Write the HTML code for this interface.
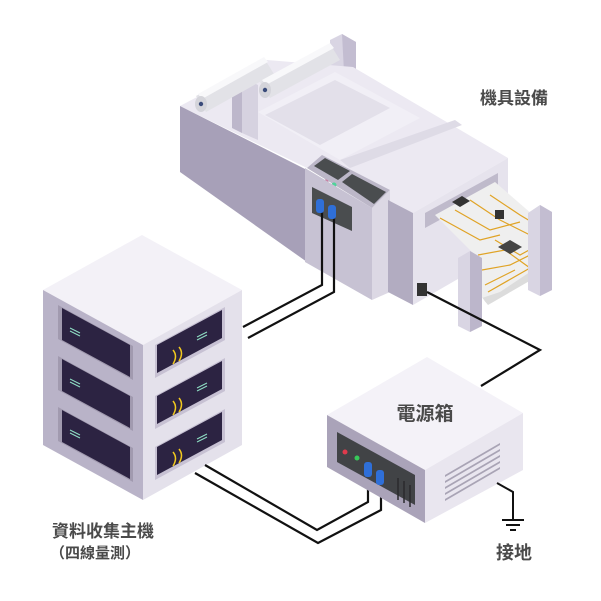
<!DOCTYPE html>
<html><head><meta charset="utf-8"><style>
html,body{margin:0;padding:0;background:#fff;width:601px;height:601px;overflow:hidden}
svg{display:block}
text{font-family:"Liberation Sans","Noto Sans CJK TC",sans-serif;font-weight:bold;fill:#4a4a4a}
</style></head><body>
<svg width="601" height="601" viewBox="0 0 601 601" xmlns="http://www.w3.org/2000/svg">
<!-- ===== Machine ===== -->
<!-- back pillar -->
<polygon points="330,40 342,34 356,42 356,78 330,70" fill="#d9d5e3"/>
<polygon points="342,34 356,42 356,78 344,72" fill="#c3bdd1"/>
<!-- top plane -->
<polygon points="180,106 267,60 353,67 508,158 413,213 388,200 372,208 307,168" fill="#ecE9f2"/>
<!-- trough -->
<polygon points="258,112 335,72 420,118 340,160" fill="#f1eff6"/>
<polygon points="265,115 335,80 390,108 320,145" fill="#e3e0ea"/>
<polygon points="340,160 455,120 462,125 350,168" fill="#dedbe6"/>
<!-- left body face -->
<polygon points="180,106 307,170 307,262 180,172" fill="#a7a0b8"/>
<!-- small pillar front -->
<polygon points="242,86 252,82 258,85 258,140 242,133" fill="#d6d2e0"/>
<polygon points="232,90 242,86 242,133 232,128" fill="#bdb7cb"/>
<!-- rolls -->
<g>
<polygon points="196,96 264,58 274,74 206,112" fill="#e2e2e7"/>
<polygon points="198,94 264,57 268,62 202,99" fill="#f8f8fa"/>
<ellipse cx="201" cy="104" rx="6" ry="8" fill="#d4d4da"/>
<circle cx="201" cy="104" r="2.2" fill="#3a4b7a"/>
<polygon points="260,82 330,44 340,60 270,98" fill="#e2e2e7"/>
<polygon points="262,80 330,43 334,48 266,85" fill="#f8f8fa"/>
<ellipse cx="265" cy="90" rx="6" ry="8" fill="#d4d4da"/>
<circle cx="265" cy="90" r="2.2" fill="#3a4b7a"/>
</g>
<!-- control panel -->
<polygon points="307,168 322,155 390,190 372,208" fill="#bcb7c8"/>
<polygon points="314,166 325,158 350,171 338,180" fill="#4a4d4f"/>
<polygon points="342,182 352,174 386,192 374,204" fill="#4a4d4f"/>
<circle cx="326" cy="182" r="2.5" fill="#c97aa0"/><circle cx="334" cy="185" r="2.5" fill="#4fd39a"/>
<polygon points="305,168 372,208 372,300 305,262" fill="#c7c2d3"/>
<polygon points="372,208 390,190 390,292 372,300" fill="#dcd8e4"/>
<polygon points="312,187 352,207 352,231 312,213" fill="#4a4d4f"/>
<path d="M322 212 V285 L243 327 M334 218 V292 L248 338" stroke="#111" stroke-width="2.2" fill="none"/>
<rect x="316" y="199" width="8" height="14" rx="3" fill="#2f6fd8"/>
<rect x="328" y="205" width="8" height="14" rx="3" fill="#2f6fd8"/>
<!-- right block -->
<polygon points="388,200 413,213 413,305 388,292" fill="#b2acc1"/>
<polygon points="413,213 508,158 508,250 413,305" fill="#e6e3ed"/>
<polygon points="425,213 498,173 498,188 425,228" fill="#bfbacb"/>
<!-- roll cylinder -->
<path d="M478 262 L540 228 Q555 250 545 272 L488 305 Q470 285 478 262 Z" fill="#dcdcdc"/>
<!-- pcb film -->
<polygon points="435,215 495,182 548,228 545,262 500,292 482,298 478,258" fill="#efefef"/>
<g stroke="#e0a325" stroke-width="1.2" fill="none">
<path d="M440 218 L480 240 L500 235 M455 210 L490 230 L520 222 M470 200 L500 220 L530 235 M478 255 L505 250 L530 268 M482 270 L510 265 L540 250 M485 285 L515 270 M490 195 L520 215 L545 230 M495 240 L520 255 L540 244 M488 292 L530 268"/>
</g>
<polygon points="452,202 462,196 470,201 460,207" fill="#333"/>
<rect x="495" y="210" width="9" height="9" fill="#333"/>
<polygon points="498,247 510,240 522,247 510,254" fill="#444"/>
<!-- roll stand pillars -->
<polygon points="528,213 540,205 552,212 552,290 540,296 528,290" fill="#d9d5e3"/>
<polygon points="540,205 552,212 552,290 540,296" fill="#c3bdd1"/>
<polygon points="458,258 470,251 482,258 482,326 470,332 458,326" fill="#d9d5e3"/>
<polygon points="470,251 482,258 482,326 470,332" fill="#bcb6cb"/>
<!-- machine plug -->
<rect x="417" y="283" width="10" height="13" fill="#333"/>
<path d="M427 292 L540 350 L481 386" stroke="#111" stroke-width="2.2" fill="none"/>

<!-- ===== Rack ===== -->
<polygon points="43,290 142,235 242,290 143,345" fill="#f3f1f7"/>
<polygon points="43,290 143,345 143,500 43,445" fill="#b9b3c8"/>
<polygon points="143,345 242,290 242,445 143,500" fill="#e4e1eb"/>
<g>
<polygon points="58,305 133,346 133,380 58,339" fill="#a19aaf"/>
<polygon points="62,308 130,345 130,377 62,340" fill="#2c2342"/>
<polygon points="58,356 133,397 133,431 58,390" fill="#a19aaf"/>
<polygon points="62,359 130,396 130,428 62,391" fill="#2c2342"/>
<polygon points="58,407 133,448 133,482 58,441" fill="#a19aaf"/>
<polygon points="62,410 130,447 130,479 62,442" fill="#2c2342"/>
<polygon points="155,345 225,307 225,340 155,378" fill="#c7c1d3"/>
<polygon points="157,345 222,310 222,338 157,373" fill="#2c2342"/>
<polygon points="155,396 225,358 225,391 155,429" fill="#c7c1d3"/>
<polygon points="157,396 222,361 222,389 157,424" fill="#2c2342"/>
<polygon points="155,447 225,409 225,442 155,480" fill="#c7c1d3"/>
<polygon points="157,447 222,412 222,440 157,475" fill="#2c2342"/>
<g stroke="#f2c91e" stroke-width="1.5" fill="none">
<path d="M173 350 q5 6 0 14 M179 347 q5 6 0 14"/>
<path d="M173 401 q5 6 0 14 M179 398 q5 6 0 14"/>
<path d="M173 452 q5 6 0 14 M179 449 q5 6 0 14"/>
</g>
<g stroke="#8fe0c5" stroke-width="1">
<path d="M197 337 l10 -5 M197 340 l10 -5 M197 388 l10 -5 M197 391 l10 -5 M197 439 l10 -5 M197 442 l10 -5"/>
<path d="M70 328 l10 5 M70 331 l10 5 M70 379 l10 5 M70 382 l10 5 M70 430 l10 5 M70 433 l10 5"/>
</g>
</g>
<!-- rack->power cables -->
<path d="M205 465 L317 530 L368 502 V480 M195 473 L318 543 L381 510 V485" stroke="#111" stroke-width="2.2" fill="none"/>

<!-- ===== Power box ===== -->
<polygon points="327,415 427,357 523,413 425,470" fill="#f4f2f8"/>
<polygon points="327,415 425,470 425,523 327,467" fill="#aaa3b9"/>
<polygon points="425,470 523,413 523,470 425,523" fill="#e9e6ef"/>
<polygon points="337,432 415,475 415,505 337,462" fill="#414346"/>
<circle cx="345" cy="452" r="2.5" fill="#e03a4c"/><circle cx="357" cy="458" r="2.5" fill="#38c95a"/>
<path d="M398 478 v22 M404 481 v22 M410 485 v22" stroke="#2a2b2d" stroke-width="1.5"/>
<rect x="364" y="462" width="8" height="15" rx="3" fill="#2f6fd8"/>
<rect x="376" y="470" width="8" height="15" rx="3" fill="#2f6fd8"/>
<g fill="#a9a4b5">
<path d="M445 475 l55 -32 v2 l-55 32z M445 481 l55 -32 v2 l-55 32z M445 487 l55 -32 v2 l-55 32z M445 493 l55 -32 v2 l-55 32z M445 499 l55 -32 v2 l-55 32z"/>
</g>
<text x="425" y="420" font-size="19" text-anchor="middle">電源箱</text>
<!-- ground -->
<path d="M497 483 L513 492 V520" stroke="#111" stroke-width="2" fill="none"/>
<path d="M502 520 h22 M506 525 h14 M510 530 h6" stroke="#111" stroke-width="2"/>
<text x="514" y="559" font-size="18" text-anchor="middle">接地</text>
<text x="514" y="104" font-size="17" text-anchor="middle">機具設備</text>
<text x="103" y="537" font-size="17" text-anchor="middle">資料收集主機</text>
<text x="95" y="558" font-size="15" text-anchor="middle">（四線量測）</text>
</svg>
</body></html>
